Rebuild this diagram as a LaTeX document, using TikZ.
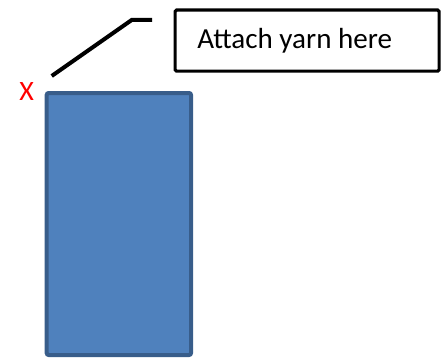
\documentclass[tikz,border=0pt]{standalone}
\usepackage{fontspec}
\setmainfont{Carlito}
\usetikzlibrary{positioning}
\definecolor{swatchfill}{RGB}{79,129,189}
\definecolor{swatchedge}{RGB}{56,93,138}
\begin{document}
\begin{tikzpicture}[x=0.75pt,y=0.75pt,yscale=-1,xscale=1]
	\useasboundingbox (0,0) rectangle (445,360);
	
	%Shape: Rectangle [id:swatch]
	\draw [color=swatchedge, line width=3pt, fill=swatchfill, rounded corners=1.5pt] (46.7,93) rectangle (191,355);
	\node (swatch) [inner sep=0pt, minimum width=0pt] at (118.85,224) {};
	%Shape: Rectangle [id:label box]
	\node (note) [draw, line width=2.4pt, rounded corners=1pt, anchor=north west, minimum width=198pt, minimum height=45.75pt, inner sep=0pt] at (173.5,8.5) {};
	%Straight Lines [id:callout]
	\coordinate (tip) at (51.7,76);
	\coordinate (bend) at (131.7,20);
	\coordinate (stub) at (152,20);
	\draw [line width=3pt] (tip) -- (bend) -- (stub);
	
	% Text Node
	\node (notetext) [anchor=base west, inner sep=0pt, font=\fontsize{21.8}{26}\selectfont] at (197,49) {Attach yarn here};
	% Text Node
	\node (mark) [anchor=base west, inner sep=0pt, text=red, font=\fontsize{21}{25}\selectfont] at (19,100) {X};
\end{tikzpicture}
\end{document}
